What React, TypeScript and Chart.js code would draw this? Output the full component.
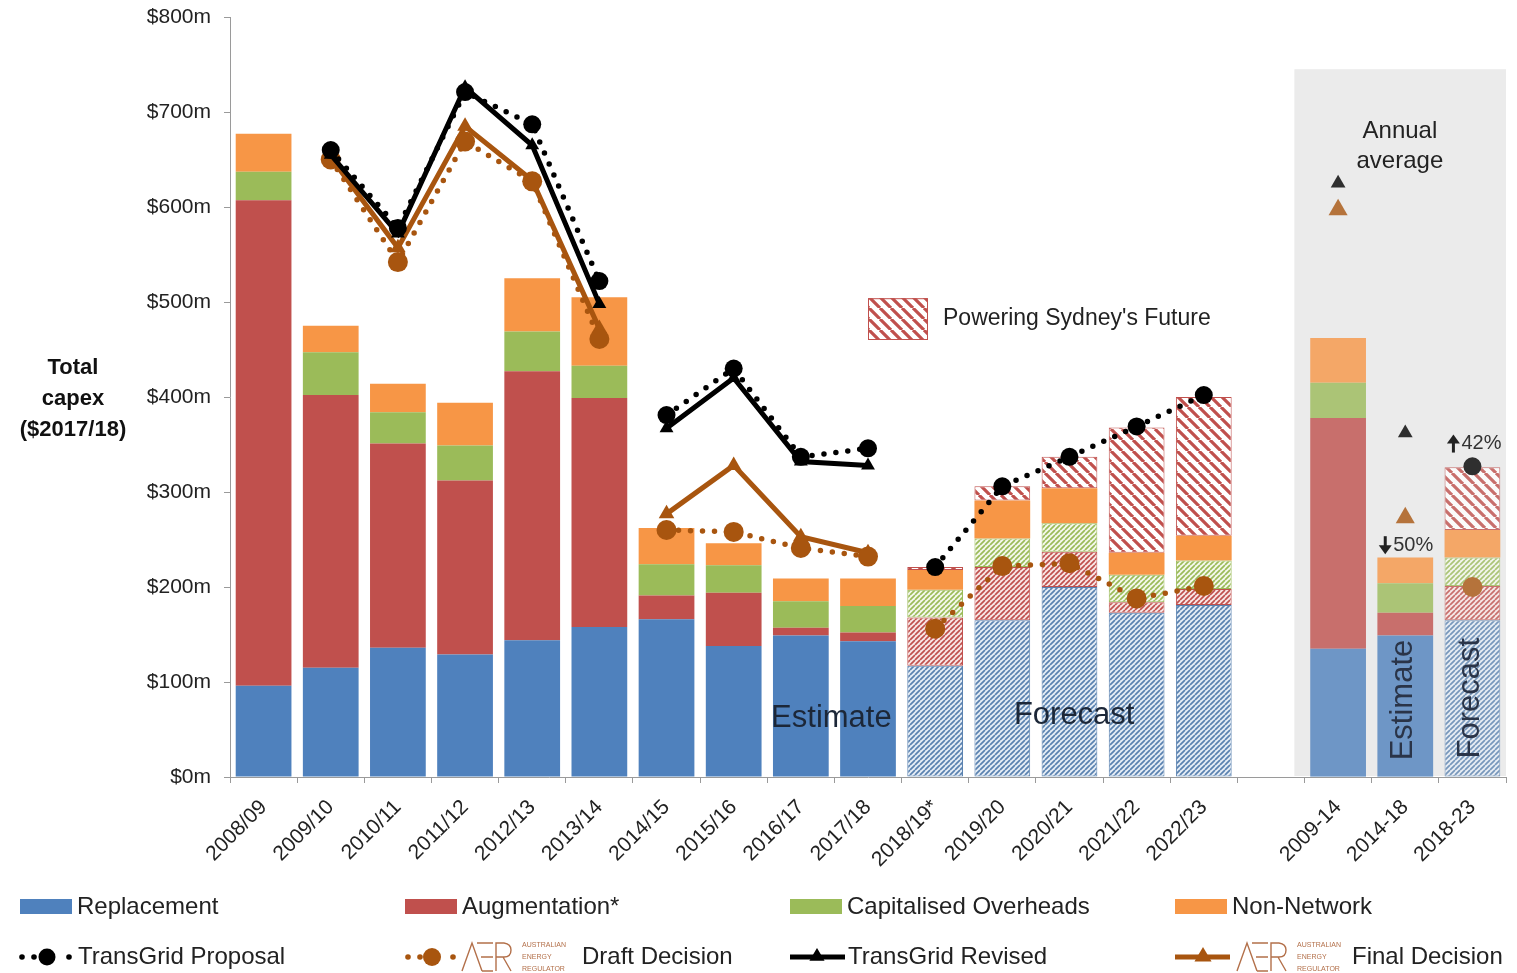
import { useEffect, useRef } from 'react';
import { Chart, registerables } from 'chart.js';

Chart.register(...registerables);

const FONT = "'Liberation Sans', Arial, sans-serif";

const categories = [
  '2008/09', '2009/10', '2010/11', '2011/12', '2012/13', '2013/14', '2014/15', '2015/16',
  '2016/17', '2017/18', '2018/19*', '2019/20', '2020/21', '2021/22', '2022/23', '',
  '2009-14', '2014-18', '2018-23',
];

// capex components, $m (2017/18)
const replacement = [96, 115, 136, 129, 144, 158, 166, 138, 149, 143, 117, 165, 200, 173, 181, null, 135, 149, 165];
const augmentation = [511, 287, 215, 183, 283, 241, 25, 56, 8, 9, 51, 56, 37, 11, 17, null, 243, 24, 36];
const overheads = [30, 45, 33, 37, 42, 34, 33, 29, 28, 28, 29, 30, 30, 29, 30, null, 37, 31, 30];
const nonNetwork = [40, 28, 30, 45, 56, 72, 38, 23, 24, 29, 21, 40, 37, 23, 26, null, 47, 27, 29];
const sydneyFuture = [null, null, null, null, null, null, null, null, null, null, 3, 15, 33, 132, 146, null, null, null, 66];

// proposal / decision totals, $m
const proposal = [null, 660, 578, 721, 687, 522, 381, 430, 337, 346, 221, 306, 337, 369, 402, null, null, null, 327];
const revised = [null, 655, 572, 726, 665, 498, 367, 420, 332, 328, null, null, null, null, null, null, 625, 362, null];
const draft = [null, 650, 542, 669, 627, 461, 260, 258, 241, 232, 156, 222, 225, 188, 201, null, null, null, 200];
const finalDecision = [null, 652, 557, 685, 628, 472, 277, 328, 253, 236, null, null, null, null, null, null, 597, 273, null];

const yTicks = [0, 100, 200, 300, 400, 500, 600, 700, 800];

const BLUE = '#4f81bd';
const RED = '#c0504d';
const GREEN = '#9bbb59';
const ORANGE = '#f79646';
const BROWN = '#a8550f';
const INK = '#1c2738';

const forecastIdx = [10, 11, 12, 13, 14, 18];
const breakAfter = [5, 9];
const AVG_START = 15;

function hatch(ctx: CanvasRenderingContext2D, size: number, bg: string, fg: string, width: number, dir: '/' | '\\') {
  const c = document.createElement('canvas');
  c.width = size;
  c.height = size;
  const g = c.getContext('2d')!;
  g.fillStyle = bg;
  g.fillRect(0, 0, size, size);
  g.strokeStyle = fg;
  g.lineWidth = width;
  g.beginPath();
  for (let k = -1; k <= 1; k++) {
    if (dir === '/') {
      g.moveTo(k * size, size);
      g.lineTo(k * size + size, 0);
    } else {
      g.moveTo(k * size, 0);
      g.lineTo(k * size + size, size);
    }
  }
  g.stroke();
  return ctx.createPattern(c, 'repeat')!;
}

function drawAer(ctx: CanvasRenderingContext2D, x: number, yc: number) {
  const top = yc - 14;
  const bot = yc + 14;
  ctx.save();
  ctx.strokeStyle = '#b3704a';
  ctx.lineWidth = 1.4;
  ctx.beginPath();
  ctx.moveTo(x, bot);
  ctx.lineTo(x + 10, top);
  ctx.lineTo(x + 20, bot);
  ctx.moveTo(x + 15, top);
  ctx.lineTo(x + 31, top);
  ctx.moveTo(x + 19, yc);
  ctx.lineTo(x + 31, yc);
  ctx.moveTo(x + 20, bot);
  ctx.lineTo(x + 31, bot);
  ctx.moveTo(x + 34, bot);
  ctx.lineTo(x + 34, top);
  ctx.lineTo(x + 42, top);
  ctx.quadraticCurveTo(x + 49, top + 1, x + 49, top + 7);
  ctx.quadraticCurveTo(x + 49, yc, x + 42, yc);
  ctx.lineTo(x + 34, yc);
  ctx.moveTo(x + 41, yc);
  ctx.lineTo(x + 49, bot);
  ctx.stroke();
  ctx.fillStyle = '#b3704a';
  ctx.font = `7px ${FONT}`;
  ctx.textAlign = 'left';
  ctx.textBaseline = 'middle';
  ctx.fillText('AUSTRALIAN', x + 60, top + 2);
  ctx.fillText('ENERGY', x + 60, yc);
  ctx.fillText('REGULATOR', x + 60, bot - 2);
  ctx.restore();
}

function triangle(ctx: CanvasRenderingContext2D, x: number, y: number, r: number, color: string) {
  ctx.fillStyle = color;
  ctx.beginPath();
  ctx.moveTo(x, y - r);
  ctx.lineTo(x + r * 0.95, y + r * 0.6);
  ctx.lineTo(x - r * 0.95, y + r * 0.6);
  ctx.closePath();
  ctx.fill();
}

function dot(ctx: CanvasRenderingContext2D, x: number, y: number, r: number, color: string) {
  ctx.fillStyle = color;
  ctx.beginPath();
  ctx.arc(x, y, r, 0, Math.PI * 2);
  ctx.fill();
}

// bold arrow followed by a percentage, centred on (cx, cy)
function arrowLabel(ctx: CanvasRenderingContext2D, cx: number, cy: number, up: boolean, text: string) {
  ctx.save();
  ctx.font = `20px ${FONT}`;
  const tw = ctx.measureText(text).width;
  const aw = 12;
  const x0 = cx - (tw + aw + 2) / 2;
  const ax = x0 + aw / 2;
  ctx.fillStyle = '#222';
  ctx.strokeStyle = '#222';
  ctx.lineWidth = 3;
  ctx.beginPath();
  if (up) {
    ctx.moveTo(ax, cy + 9);
    ctx.lineTo(ax, cy - 3);
  } else {
    ctx.moveTo(ax, cy - 9);
    ctx.lineTo(ax, cy + 3);
  }
  ctx.stroke();
  ctx.beginPath();
  if (up) {
    ctx.moveTo(ax, cy - 9);
    ctx.lineTo(ax + 6.5, cy);
    ctx.lineTo(ax - 6.5, cy);
  } else {
    ctx.moveTo(ax, cy + 9);
    ctx.lineTo(ax + 6.5, cy);
    ctx.lineTo(ax - 6.5, cy);
  }
  ctx.closePath();
  ctx.fill();
  ctx.fillStyle = '#333';
  ctx.textAlign = 'left';
  ctx.textBaseline = 'middle';
  ctx.fillText(text, x0 + aw + 2, cy);
  ctx.restore();
}

function avgRegion(chart: any) {
  const { chartArea, scales } = chart;
  const xs = scales.x;
  const ys = scales.y;
  const slot = xs.getPixelForValue(1) - xs.getPixelForValue(0);
  const left = xs.getPixelForValue(AVG_START + 1) - slot * 0.65;
  const top = ys.getPixelForValue(745);
  return { left, top, w: chartArea.right - left, h: chartArea.bottom - 1 - top };
}

const overlayPlugin = {
  id: 'capexOverlay',
  beforeDatasetsDraw(chart: any) {
    const { ctx } = chart;
    const r = avgRegion(chart);
    ctx.save();
    ctx.fillStyle = '#ebebeb';
    ctx.fillRect(r.left, r.top, r.w, r.h);
    ctx.restore();
  },
  afterDatasetsDraw(chart: any) {
    const { ctx } = chart;
    const r = avgRegion(chart);
    ctx.save();
    ctx.fillStyle = 'rgba(235,235,235,0.2)';
    ctx.fillRect(r.left, r.top, r.w, r.h);
    ctx.restore();
  },
  afterDraw(chart: any) {
    const { ctx, scales } = chart;
    const xs = scales.x;
    const ys = scales.y;
    const slot = xs.getPixelForValue(1) - xs.getPixelForValue(0);
    ctx.save();

    // y-axis title
    ctx.fillStyle = '#111';
    ctx.font = `bold 22px ${FONT}`;
    ctx.textAlign = 'center';
    ctx.textBaseline = 'middle';
    ctx.fillText('Total', 73, 368);
    ctx.fillText('capex', 73, 399);
    ctx.fillText('($2017/18)', 73, 430);

    // period notes
    ctx.fillStyle = INK;
    ctx.font = `31px ${FONT}`;
    ctx.fillText('Estimate', (xs.getPixelForValue(8) + xs.getPixelForValue(9)) / 2 - 3, ys.getPixelForValue(62));
    ctx.fillText('Forecast', xs.getPixelForValue(12) + slot * 0.07, ys.getPixelForValue(65));

    ctx.fillStyle = '#222';
    ctx.font = `24px ${FONT}`;
    const avgX = xs.getPixelForValue(17) - slot * 0.08;
    ctx.fillText('Annual', avgX, ys.getPixelForValue(680));
    ctx.fillText('average', avgX, ys.getPixelForValue(648));

    arrowLabel(ctx, xs.getPixelForValue(17) + 1, ys.getPixelForValue(244), false, '50%');
    arrowLabel(ctx, xs.getPixelForValue(18) + 2, ys.getPixelForValue(351), true, '42%');

    ctx.font = `31px ${FONT}`;
    ctx.fillStyle = '#2a3448';
    ctx.textAlign = 'center';
    ctx.textBaseline = 'middle';
    for (const [idx, text, v] of [[17, 'Estimate', 81], [18, 'Forecast', 83]] as [number, string, number][]) {
      ctx.save();
      ctx.translate(xs.getPixelForValue(idx) - 2, ys.getPixelForValue(v));
      ctx.rotate(-Math.PI / 2);
      ctx.fillText(text, 0, 0);
      ctx.restore();
    }

    // Powering Sydney's Future key
    const kx = xs.getPixelForValue(9);
    const ky0 = ys.getPixelForValue(504);
    const ky1 = ys.getPixelForValue(460);
    ctx.fillStyle = chart.$psfPattern;
    ctx.fillRect(kx, ky0, 60, ky1 - ky0);
    ctx.strokeStyle = RED;
    ctx.lineWidth = 1;
    ctx.strokeRect(kx + 0.5, ky0 + 0.5, 59, ky1 - ky0 - 1);
    ctx.fillStyle = '#222';
    ctx.font = `23px ${FONT}`;
    ctx.textAlign = 'left';
    ctx.fillText("Powering Sydney's Future", kx + 75, (ky0 + ky1) / 2);

    // legend
    ctx.font = `24px ${FONT}`;
    ctx.textAlign = 'left';
    ctx.textBaseline = 'middle';
    const row1 = 907;
    const row2 = 957;
    const swatches: [number, string, string][] = [
      [20, BLUE, 'Replacement'],
      [405, RED, 'Augmentation*'],
      [790, GREEN, 'Capitalised Overheads'],
      [1175, ORANGE, 'Non-Network'],
    ];
    for (const [x, c, t] of swatches) {
      ctx.fillStyle = c;
      ctx.fillRect(x, row1 - 8, 52, 15);
      ctx.fillStyle = '#222';
      ctx.fillText(t, x + 57, row1);
    }

    // TransGrid Proposal
    dot(ctx, 22, row2, 2.8, '#000');
    dot(ctx, 34, row2, 2.8, '#000');
    dot(ctx, 47, row2, 8.5, '#000');
    dot(ctx, 69, row2, 2.8, '#000');
    ctx.fillStyle = '#222';
    ctx.fillText('TransGrid Proposal', 78, row2);

    // Draft decision
    dot(ctx, 408, row2, 2.8, BROWN);
    dot(ctx, 420, row2, 2.8, BROWN);
    dot(ctx, 432, row2, 9, BROWN);
    dot(ctx, 453, row2, 2.8, BROWN);
    drawAer(ctx, 462, row2);
    ctx.fillStyle = '#222';
    ctx.fillText('Draft Decision', 582, row2);

    // TransGrid Revised
    ctx.strokeStyle = '#000';
    ctx.lineWidth = 5;
    ctx.beginPath();
    ctx.moveTo(790, row2);
    ctx.lineTo(845, row2);
    ctx.stroke();
    triangle(ctx, 817, row2 - 1, 8, '#000');
    ctx.fillStyle = '#222';
    ctx.fillText('TransGrid Revised', 848, row2);

    // Final decision
    ctx.strokeStyle = BROWN;
    ctx.beginPath();
    ctx.moveTo(1175, row2);
    ctx.lineTo(1230, row2);
    ctx.stroke();
    triangle(ctx, 1203, row2 - 1, 9, BROWN);
    drawAer(ctx, 1237, row2);
    ctx.fillStyle = '#222';
    ctx.fillText('Final Decision', 1352, row2);

    ctx.restore();
  },
};

export default function App() {
  const canvasRef = useRef<HTMLCanvasElement | null>(null);

  useEffect(() => {
    const canvas = canvasRef.current;
    if (!canvas) return;
    const ctx = canvas.getContext('2d')!;
    Chart.defaults.font.family = FONT;

    const blueHatch = hatch(ctx, 5, '#e4ecf5', '#5a82b0', 1.7, '/');
    const redHatch = hatch(ctx, 5, '#f8e6e5', '#c0504d', 1.7, '/');
    const greenHatch = hatch(ctx, 5, '#f4f8ec', '#9bbb59', 1.7, '/');
    const psfHatch = hatch(ctx, 11, '#ffffff', '#c0504d', 3.2, '\\');

    const isForecast = (i: number) => forecastIdx.includes(i);

    const barSet = (label: string, data: (number | null)[], solid: string, pattern: CanvasPattern, border: string) => ({
      type: 'bar' as const,
      label,
      data,
      order: 10,
      stack: 'capex',
      backgroundColor: (c: any) => (isForecast(c.dataIndex) ? pattern : solid),
      borderColor: border,
      borderWidth: (c: any) => (isForecast(c.dataIndex) ? 1 : 0),
      borderSkipped: false,
      categoryPercentage: 1,
      barPercentage: 0.83,
    });

    const lineSet = (
      label: string,
      data: (number | null)[],
      color: string,
      dotted: boolean,
      style: string,
      radius: number,
      smallRadius: number,
      order: number,
    ) => ({
      type: 'line' as const,
      label,
      data,
      order,
      stack: label,
      borderColor: color,
      backgroundColor: color,
      borderWidth: dotted ? 5.5 : 5,
      borderDash: dotted ? [0, 12] : [],
      borderCapStyle: 'round' as const,
      pointStyle: style,
      pointRadius: (c: any) => (c.dataIndex > AVG_START ? smallRadius : radius),
      pointBorderWidth: 0,
      pointBackgroundColor: color,
      spanGaps: false,
      tension: 0,
      segment: {
        borderColor: (s: any) =>
          breakAfter.includes(s.p0DataIndex) || s.p0DataIndex >= AVG_START ? 'transparent' : undefined,
      },
    });

    const chart = new Chart(canvas, {
      type: 'bar',
      data: {
        labels: categories,
        datasets: [
          barSet('Replacement', replacement, BLUE, blueHatch, '#5a82b0'),
          barSet('Augmentation*', augmentation, RED, redHatch, '#c0504d'),
          barSet('Capitalised Overheads', overheads, GREEN, greenHatch, '#9bbb59'),
          { ...barSet('Non-Network', nonNetwork, ORANGE, blueHatch, ORANGE), backgroundColor: ORANGE, borderWidth: 0 },
          { ...barSet("Powering Sydney's Future", sydneyFuture, RED, psfHatch, RED), backgroundColor: psfHatch, borderWidth: 1 },
          lineSet('Final Decision', finalDecision, BROWN, false, 'triangle', 9, 11, 4),
          lineSet('Draft Decision', draft, BROWN, true, 'circle', 10, 10, 3),
          lineSet('TransGrid Revised', revised, '#000', false, 'triangle', 8, 8.5, 2),
          lineSet('TransGrid Proposal', proposal, '#000', true, 'circle', 9, 9, 1),
        ] as any,
      },
      options: {
        responsive: false,
        animation: false,
        events: [],
        layout: { padding: { top: 17, right: 7, left: 0, bottom: 0 } },
        plugins: { legend: { display: false }, tooltip: { enabled: false } },
        scales: {
          x: {
            stacked: true,
            grid: { drawOnChartArea: false, tickLength: 6, color: '#9a9a9a', offset: true },
            border: { color: '#9a9a9a' },
            ticks: {
              autoSkip: false,
              maxRotation: 45,
              minRotation: 45,
              color: '#222',
              padding: 12,
              font: { size: 21, family: FONT },
            },
            afterFit: (s: any) => {
              s.height = 196;
            },
          },
          y: {
            stacked: true,
            min: 0,
            max: 800,
            afterBuildTicks: (s: any) => {
              s.ticks = yTicks.map((v) => ({ value: v }));
            },
            ticks: {
              callback: (v: any) => `$${v}m`,
              color: '#222',
              padding: 13,
              font: { size: 21, family: FONT },
            },
            grid: { drawOnChartArea: false, tickLength: 6, color: '#9a9a9a' },
            border: { color: '#9a9a9a' },
            afterFit: (s: any) => {
              s.width = 230;
              s.paddingTop = 0;
              s.paddingBottom = 0;
            },
          },
        },
      } as any,
      plugins: [overlayPlugin],
    });
    (chart as any).$psfPattern = psfHatch;
    chart.draw();

    return () => chart.destroy();
  }, []);

  return (
    <div style={{ position: 'absolute', left: 0, top: 0, width: 1517, height: 973, background: '#fff' }}>
      <canvas ref={canvasRef} width={1517} height={973} />
    </div>
  );
}
